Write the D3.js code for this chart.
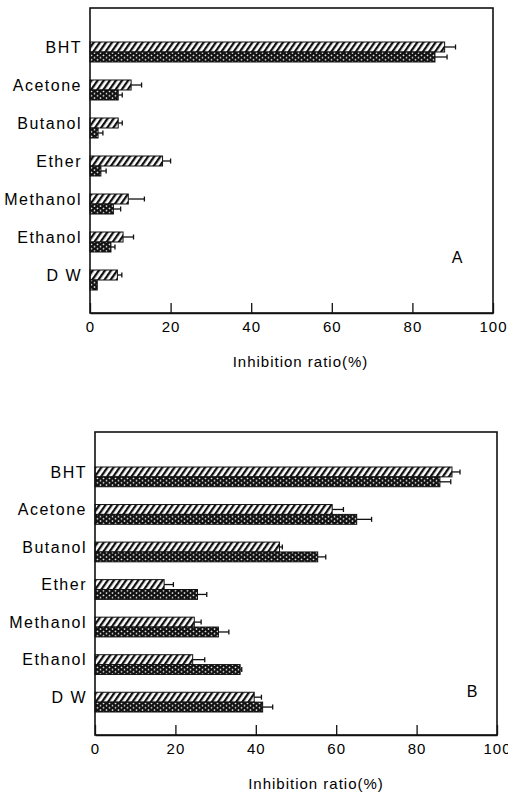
<!DOCTYPE html>
<html lang="en">
<head>
<meta charset="UTF-8">
<title>Inhibition ratio</title>
<script src="https://d3js.org/d3.v7.min.js"></script>
<style>
  body { margin: 0; background: #fff; }
  text { font-family: "Liberation Sans", Arial, sans-serif; fill: #000; }
</style>
</head>
<body>
<div class="canvas"></div>
<script>
  // data
  const categories = ['BHT', 'Acetone', 'Butanol', 'Ether', 'Methanol', 'Ethanol', 'D W']
  const xTicks = [0, 20, 40, 60, 80, 100]

  const aHatch = [88, 10.2, 7, 18, 9.5, 8.2, 6.8]
  const aHatchErr = [2.7, 2.6, 1, 2, 4, 2.6, 1.1]
  const aCross = [85.6, 7, 2, 2.7, 5.8, 5.2, 1.8]
  const aCrossErr = [3, 1, 1.2, 1.3, 1.8, 1, 0]

  const bHatch = [88.8, 59, 45.9, 17.2, 24.7, 24.3, 39.6]
  const bHatchErr = [2, 2.8, 0.7, 2.3, 1.7, 3, 1.8]
  const bCross = [85.8, 65.1, 55.4, 25.5, 30.7, 36.1, 41.7]
  const bCrossErr = [2.7, 3.7, 2, 2.3, 2.6, 0.4, 2.5]

  const svg = d3.select('.canvas')
    .append('svg')
    .attr('width', 508)
    .attr('height', 796)

  // fill patterns
  const defs = svg.append('defs')
  const hatch = defs.append('pattern')
    .attr('id', 'hatch')
    .attr('patternUnits', 'userSpaceOnUse')
    .attr('width', 5).attr('height', 5)
    .attr('patternTransform', 'rotate(35)')
  hatch.append('rect').attr('width', 5).attr('height', 5).attr('fill', '#fff')
  hatch.append('rect').attr('width', 2.3).attr('height', 5).attr('fill', '#111')

  const cross = defs.append('pattern')
    .attr('id', 'cross')
    .attr('patternUnits', 'userSpaceOnUse')
    .attr('width', 6).attr('height', 4.5)
  cross.append('rect').attr('width', 6).attr('height', 4.5).attr('fill', '#111')
  cross.append('path').attr('d', 'M1.5,0.4 L2.6,1.3 L1.5,2.2 L0.4,1.3 Z').attr('fill', '#fff')
  cross.append('path').attr('d', 'M4.5,2.6 L5.6,3.5 L4.5,4.4 L3.4,3.5 Z').attr('fill', '#fff')

  function panel(cfg) {
    const x = d3.scaleLinear().domain([0, 100]).range([cfg.left, cfg.right])
    const y = d3.scaleBand().domain(categories).range(cfg.band).paddingInner(0.474)
    const bh = y.bandwidth() / 2
    const g = svg.append('g')

    const rows = categories.map((c, i) => ({
      c, h: cfg.hatch[i], he: cfg.hatchErr[i], x: cfg.cross[i], xe: cfg.crossErr[i]
    }))

    // bars
    g.selectAll('.hb').data(rows).enter().append('rect')
      .attr('x', x(0)).attr('y', d => y(d.c))
      .attr('width', d => x(d.h) - x(0)).attr('height', bh)
      .attr('fill', 'url(#hatch)').attr('stroke', '#111').attr('stroke-width', 1)
    g.selectAll('.cb').data(rows).enter().append('rect')
      .attr('x', x(0)).attr('y', d => y(d.c) + bh)
      .attr('width', d => x(d.x) - x(0)).attr('height', bh)
      .attr('fill', 'url(#cross)').attr('stroke', '#111').attr('stroke-width', 1)

    // error bars
    const errs = []
    rows.forEach(d => {
      if (d.he > 0) errs.push({ v: d.h, e: d.he, cy: y(d.c) + bh / 2 })
      if (d.xe > 0) errs.push({ v: d.x, e: d.xe, cy: y(d.c) + bh * 1.5 })
    })
    const eg = g.selectAll('.err').data(errs).enter().append('g')
      .attr('stroke', '#111').attr('stroke-width', 1.3)
    eg.append('line')
      .attr('x1', d => x(d.v)).attr('x2', d => x(d.v + d.e))
      .attr('y1', d => d.cy).attr('y2', d => d.cy)
    eg.append('line')
      .attr('x1', d => x(d.v + d.e)).attr('x2', d => x(d.v + d.e))
      .attr('y1', d => d.cy - 2.5).attr('y2', d => d.cy + 2.5)

    // frame
    g.append('rect')
      .attr('x', cfg.left).attr('y', cfg.top)
      .attr('width', cfg.right - cfg.left).attr('height', cfg.bottom - cfg.top)
      .attr('fill', 'none').attr('stroke', '#111').attr('stroke-width', 1.6)

    // x axis with inward ticks
    const ax = g.append('g')
      .attr('transform', `translate(0,${cfg.bottom})`)
      .call(d3.axisBottom(x).tickValues(xTicks).tickFormat(d3.format('d'))
        .tickSizeInner(-10).tickSizeOuter(0).tickPadding(8))
    ax.select('.domain').attr('stroke', '#111').attr('stroke-width', 1.6)
    ax.selectAll('.tick line').attr('stroke', '#111').attr('stroke-width', 1.3)
    ax.selectAll('.tick text')
      .attr('font-size', 15).attr('letter-spacing', 1)
      .style('font-family', '"Liberation Sans", Arial, sans-serif').attr('fill', '#000')

    g.append('text')
      .attr('x', (cfg.left + cfg.right) / 2 + cfg.titleShift).attr('y', cfg.bottom + 54)
      .attr('text-anchor', 'middle').attr('font-size', 15).attr('letter-spacing', 1)
      .text('Inhibition ratio(%)')

    // category labels
    g.selectAll('.cat').data(categories).enter().append('text')
      .attr('x', cfg.left - 8).attr('y', d => y(d) + 5)
      .attr('dy', '0.35em').attr('text-anchor', 'end')
      .attr('font-size', 16).attr('letter-spacing', 1.5)
      .text(d => d)

    g.append('text')
      .attr('x', cfg.tagX).attr('y', cfg.tagY).attr('dy', '0.35em')
      .attr('text-anchor', 'middle').attr('font-size', 16)
      .text(cfg.tag)
  }

  panel({
    left: 90, right: 493, top: 8, bottom: 313, band: [42, 290],
    hatch: aHatch, hatchErr: aHatchErr, cross: aCross, crossErr: aCrossErr,
    tag: 'A', tagX: 457, tagY: 257, titleShift: 9
  })
  panel({
    left: 95, right: 497, top: 432, bottom: 735, band: [467, 712],
    hatch: bHatch, hatchErr: bHatchErr, cross: bCross, crossErr: bCrossErr,
    tag: 'B', tagX: 472, tagY: 691, titleShift: 20
  })
</script>
</body>
</html>
